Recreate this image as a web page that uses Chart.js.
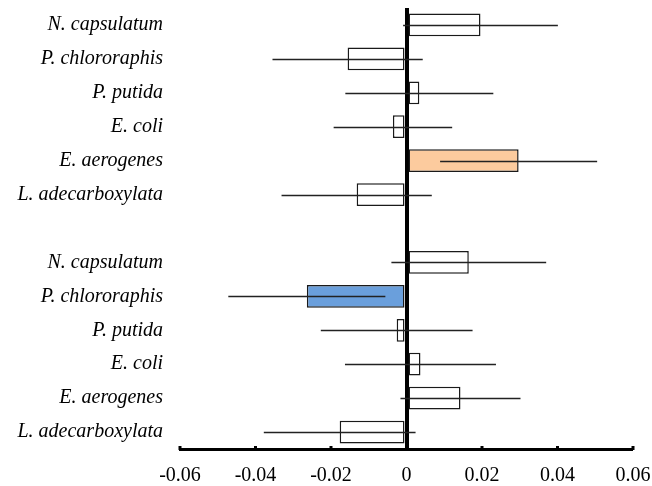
<!DOCTYPE html>
<html>
<head>
<meta charset="utf-8">
<script src="https://cdn.jsdelivr.net/npm/chart.js@4"></script>
<style>
  html, body { margin: 0; padding: 0; background: #fff; }
  #wrap { width: 652px; height: 486px; }
</style>
</head>
<body>
<div id="wrap"><canvas id="chart"></canvas></div>
<script>
// species order, top to bottom, same in both groups
const species = ['N. capsulatum', 'P. chlororaphis', 'P. putida', 'E. coli', 'E. aerogenes', 'L. adecarboxylata'];

// upper group
const topValues = [0.0196, -0.0156, 0.0034, -0.0036, 0.0297, -0.0132];
const topErrors = [0.0205, 0.0199, 0.0196, 0.0157, 0.0208, 0.0199];
const topColors = ['#ffffff', '#ffffff', '#ffffff', '#ffffff', '#fccb9e', '#ffffff'];

// lower group
const bottomValues = [0.0165, -0.0264, -0.0026, 0.0037, 0.0143, -0.0177];
const bottomErrors = [0.0205, 0.0208, 0.0201, 0.0200, 0.0159, 0.0201];
const bottomColors = ['#ffffff', '#6a9fdc', '#ffffff', '#ffffff', '#ffffff', '#ffffff'];

const xTicks = [-0.06, -0.04, -0.02, 0, 0.02, 0.04, 0.06];

// one empty row between the two groups
const labels = [...species, '', ...species];
const values = [...topValues, null, ...bottomValues];
const errors = [...topErrors, null, ...bottomErrors];
const colors = [...topColors, '#ffffff', ...bottomColors];

const errorBars = {
  id: 'errorBars',
  afterDatasetsDraw(chart) {
    const { ctx, scales: { x, y } } = chart;
    ctx.save();
    ctx.strokeStyle = '#222';
    ctx.lineWidth = 1.6;
    values.forEach((v, i) => {
      if (v === null) return;
      const yy = Math.round(y.getPixelForValue(i)) + 0.5;
      ctx.beginPath();
      ctx.moveTo(x.getPixelForValue(v - errors[i]), yy);
      ctx.lineTo(x.getPixelForValue(v + errors[i]), yy);
      ctx.stroke();
    });
    ctx.restore();
  },
  afterDraw(chart) {
    // small tick marks sitting on top of the x axis line
    const { ctx, scales: { x } } = chart;
    ctx.save();
    ctx.fillStyle = '#000';
    xTicks.forEach(t => {
      const px = x.getPixelForValue(t);
      ctx.fillRect(px - 1.5, x.top - 3, 3, 4);
    });
    ctx.restore();
  }
};

new Chart(document.getElementById('chart'), {
  type: 'bar',
  data: {
    labels: labels,
    datasets: [{
      data: values,
      backgroundColor: colors,
      borderColor: '#1a1a1a',
      borderWidth: 1.5,
      borderSkipped: false,
      categoryPercentage: 1,
      barPercentage: 0.67
    }]
  },
  options: {
    indexAxis: 'y',
    responsive: true,
    maintainAspectRatio: false,
    animation: false,
    layout: { padding: { top: 8, right: 19, left: 0, bottom: 0 } },
    plugins: {
      legend: { display: false },
      tooltip: { enabled: false }
    },
    scales: {
      x: {
        min: -0.06,
        max: 0.06,
        afterBuildTicks: scale => { scale.ticks = xTicks.map(v => ({ value: v })); },
        afterFit: scale => {
          scale.height = 37;
          scale.paddingLeft = 0;
          scale.paddingRight = 0;
        },
        border: { display: true, color: '#000', width: 3 },
        grid: {
          drawTicks: false,
          color: c => (c.tick && c.tick.value === 0 ? '#000' : 'rgba(0,0,0,0)'),
          lineWidth: c => (c.tick && c.tick.value === 0 ? 4 : 0)
        },
        ticks: {
          color: '#000',
          padding: 15,
          maxRotation: 0,
          font: { family: 'Liberation Serif', size: 20 },
          callback: v => (v === 0 ? '0' : String(Math.round(v * 100) / 100))
        }
      },
      y: {
        afterFit: scale => {
          scale.width = 180;
          scale.paddingTop = 0;
          scale.paddingBottom = 0;
        },
        border: { display: false },
        grid: { display: false, drawTicks: false },
        ticks: {
          color: '#000',
          padding: 17,
          autoSkip: false,
          font: { family: 'Liberation Serif', size: 20, style: 'italic' }
        }
      }
    }
  },
  plugins: [errorBars]
});
</script>
</body>
</html>
